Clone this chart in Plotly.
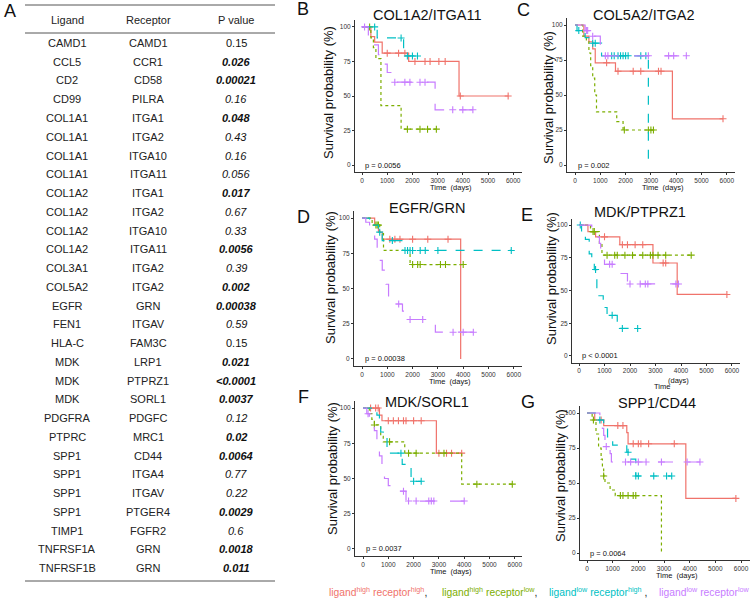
import plotly.graph_objects as go

W, H = 750, 598
FONT = "Liberation Sans, Arial, sans-serif"

# ---------------- table data ----------------
ligands = ["CAMD1", "CCL5", "CD2", "CD99", "COL1A1", "COL1A1", "COL1A1", "COL1A1",
           "COL1A2", "COL1A2", "COL1A2", "COL1A2", "COL3A1", "COL5A2", "EGFR", "FEN1",
           "HLA-C", "MDK", "MDK", "MDK", "PDGFRA", "PTPRC", "SPP1", "SPP1", "SPP1",
           "SPP1", "TIMP1", "TNFRSF1A", "TNFRSF1B"]
receptors = ["CAMD1", "CCR1", "CD58", "PILRA", "ITGA1", "ITGA2", "ITGA10", "ITGA11",
             "ITGA1", "ITGA2", "ITGA10", "ITGA11", "ITGA2", "ITGA2", "GRN", "ITGAV",
             "FAM3C", "LRP1", "PTPRZ1", "SORL1", "PDGFC", "MRC1", "CD44", "ITGA4",
             "ITGAV", "PTGER4", "FGFR2", "GRN", "GRN"]
p_values = ["0.15", "0.026", "0.00021", "0.16", "0.048", "0.43", "0.16", "0.056",
            "0.017", "0.67", "0.33", "0.0056", "0.39", "0.002", "0.00038", "0.59",
            "0.15", "0.021", "<0.0001", "0.0037", "0.12", "0.02", "0.0064", "0.77",
            "0.22", "0.0029", "0.6", "0.0018", "0.011"]
p_style = ["plain", "bold", "bold", "italic", "bold", "italic", "italic", "italic",
           "bold", "italic", "italic", "bold", "italic", "bold", "bold", "italic",
           "plain", "bold", "bold", "bold", "italic", "bold", "bold", "italic",
           "italic", "bold", "italic", "bold", "bold"]
table_header = ["Ligand", "Receptor", "P value"]

# ---------------- survival data (groups: hh, hl, lh, ll) ----------------
group_names = ["ligand high receptor high", "ligand high receptor low",
               "ligand low receptor high", "ligand low receptor low"]
panel_titles = ["COL1A2/ITGA11", "COL5A2/ITGA2", "EGFR/GRN", "MDK/PTPRZ1", "MDK/SORL1", "SPP1/CD44"]
panel_letters = ["B", "C", "D", "E", "F", "G"]
panel_pvals = ["p = 0.0056", "p = 0.002", "p = 0.00038", "p &lt; 0.0001", "p = 0.0037", "p = 0.0064"]

B_t = [[0, 350, 500, 800, 1850, 3850, 5800],
       [0, 350, 450, 550, 750, 1550, 2950],
       [0, 600, 1650, 2200],
       [0, 250, 450, 650, 850, 1000, 1200, 2900, 4400]]
B_s = [[100, 93, 89, 81, 75, 50, 50],
       [100, 92, 85, 77, 43, 26, 26],
       [100, 92, 79, 79],
       [100, 93, 87, 80, 73, 67, 60, 40, 40]]
B_c = [[1000, 1450, 1700, 2100, 2500, 2700, 3050, 3300, 3900, 5800],
       [300, 1800, 2300, 2600, 2950],
       [500, 1550, 1800, 2000, 2200],
       [100, 1300, 1700, 1900, 2300, 2500, 3600, 4000, 4400]]

C_t = [[0, 350, 550, 700, 800, 1600, 3850, 5850],
       [0, 300, 450, 550, 620, 700, 780, 850, 1650, 1900, 3100],
       [0, 80, 400, 600, 1050, 2900],
       [0, 400, 650, 1000, 1150, 4400]]
C_s = [[100, 92, 88, 83, 73, 67, 33, 33],
       [100, 92, 88, 80, 71, 62, 50, 38, 31, 25, 25],
       [100, 96, 91, 87, 78, 0],
       [100, 96, 92, 83, 78, 78]]
C_c = [[1250, 1700, 2300, 2600, 3300, 3400, 5850],
       [1950, 2900, 3000, 3100],
       [150, 700, 800, 1450, 1550, 1700, 1800, 1900, 2000, 2100, 2600, 2800],
       [450, 500, 700, 1200, 1300, 2900, 3700, 3900, 4400]]

D_t = [[0, 500, 650, 800, 3900],
       [0, 400, 700, 850, 1900, 4000],
       [0, 300, 650, 800, 1600, 5900],
       [0, 150, 300, 400, 500, 600, 700, 800, 950, 1050, 1600, 1750, 2900, 4400]]
D_s = [[100, 95, 90, 85, 0],
       [100, 95, 89, 77, 67, 67],
       [100, 95, 90, 84, 77, 77],
       [100, 97, 94, 90, 85, 78, 70, 63, 53, 39, 34, 28, 19, 19]]
D_c = [[1100, 1300, 1500, 2000, 2600, 3400],
       [550, 600, 650, 2000, 2200, 2300, 3100, 3300, 4000],
       [700, 1200, 1700, 1800, 1900, 2000, 2300, 2500, 3000, 5900],
       [1450, 1900, 2400, 3600, 4000, 4400]]

E_t = [[0, 350, 650, 1600, 2900, 3850, 5800],
       [0, 450, 800, 900, 4400],
       [0, 100, 250, 400, 500, 600, 700, 950, 1100, 1500, 2300],
       [0, 500, 650, 800, 850, 1000, 1650, 1900, 3900]]
E_s = [[100, 95, 91, 85, 71, 47, 47],
       [100, 95, 86, 77, 77],
       [100, 95, 89, 78, 72, 66, 46, 37, 31, 21, 21],
       [100, 95, 91, 86, 80, 70, 63, 55, 55]]
E_c = [[1000, 1700, 1900, 2200, 2500, 3300, 3400, 5800],
       [550, 600, 1100, 1400, 1500, 1800, 2100, 2500, 2800, 2900, 3100, 3400, 4400],
       [50, 650, 1300, 1700, 2300],
       [1200, 1300, 2000, 2400, 2600, 2700, 3800, 3900]]

F_t = [[0, 650, 750, 2900, 3900],
       [0, 250, 350, 450, 700, 800, 1650, 3900, 5900],
       [0, 550, 650, 700, 800, 950, 1550, 1900, 2300],
       [0, 150, 250, 350, 450, 550, 650, 750, 850, 1000, 1200, 1700, 4000]]
F_s = [[100, 95, 91, 68, 68],
       [100, 96, 92, 88, 80, 76, 68, 46, 46],
       [100, 95, 88, 83, 79, 68, 60, 48, 48],
       [100, 96, 92, 88, 84, 75, 66, 58, 50, 45, 41, 34, 34]]
F_c = [[300, 500, 600, 1000, 1200, 1400, 1600, 1700, 2000, 2300, 3000, 3300, 3500, 3900],
       [450, 1050, 1800, 2100, 3200, 4500, 5900],
       [1500, 2000, 2300],
       [200, 1600, 1800, 2100, 2600, 2700, 2800, 4000]]

G_t = [[0, 300, 650, 1550, 1600, 3850, 5800],
       [0, 200, 350, 450, 550, 600, 650, 700, 900, 1100, 2900],
       [0, 400, 650, 800, 1000, 1550, 1650, 1900, 3300],
       [0, 500, 600, 650, 700, 900, 950, 4400]]
G_s = [[100, 95, 91, 86, 78, 39, 39],
       [100, 95, 85, 75, 67, 60, 55, 50, 45, 41, 0],
       [100, 95, 89, 83, 77, 72, 67, 55, 55],
       [100, 96, 89, 84, 76, 71, 65, 65]]
G_c = [[550, 1200, 1400, 1800, 2000, 2100, 2400, 3400, 5800],
       [250, 650, 1300, 1400, 1600, 1800, 1900],
       [500, 1600, 1900, 2000, 2600, 3100, 3300],
       [750, 1500, 1700, 2000, 2300, 2900, 3900, 4400]]

x_ticks = [0, 1000, 2000, 3000, 4000, 5000, 6000]
y_ticks = [0, 25, 50, 75, 100]

# ---------------- styling / layout geometry (pixels) ----------------
colors = ["#F0736B", "#7CAE00", "#00BFC4", "#C77CFF"]
dashes = ["solid", "dot", "dash", "longdash"]

# left, right, top, bottom (px), x-range
geo = [
    (355, 522, 20, 172, [-280, 6350]),
    (567, 735, 18, 172, [-316, 6324]),
    (354, 522, 211, 366, [-316, 6324]),
    (572, 740, 218.5, 362.5, [-275, 6314]),
    (355, 522, 401, 556, [-316, 6284]),
    (580, 750, 406, 560, [-273, 6350]),
]
title_pos = [(427, 15), (644, 15), (427, 208), (640, 212), (427, 402), (657, 403)]
letter_pos = [(303, 9), (523, 10), (303, 217), (527, 215), (303, 397), (528, 402)]
ylab_pos = [(328, 93), (548, 98), (330, 278), (551, 279), (332, 469), (560, 476)]
all_t = [B_t, C_t, D_t, E_t, F_t, G_t]
all_s = [B_s, C_s, D_s, E_s, F_s, G_s]
all_c = [B_c, C_c, D_c, E_c, F_c, G_c]


def fx(x):
    return x / W


def fy(y):
    return 1 - y / H


def surv_at(ts, ss, c):
    v = ss[0]
    for t, s in zip(ts, ss):
        if t <= c:
            v = s
    return v


def note(x, y, text, size, color="#111", xanchor="center", **kw):
    d = dict(x=fx(x), y=fy(y), xref="paper", yref="paper", text=text, showarrow=False,
             xanchor=xanchor, yanchor="middle", font=dict(size=size, color=color, family=FONT))
    d.update(kw)
    return d


fig = go.Figure()
annotations = []
shapes = []

for i in range(6):
    xa = "x" if i == 0 else f"x{i+1}"
    ya = "y" if i == 0 else f"y{i+1}"
    for g in range(4):
        ts, ss, cs = all_t[i][g], all_s[i][g], all_c[i][g]
        fig.add_trace(go.Scatter(
            x=ts, y=ss, mode="lines", line=dict(color=colors[g], width=1.2, dash=dashes[g], shape="hv"),
            xaxis=xa, yaxis=ya, showlegend=False, hoverinfo="skip", name=group_names[g]))
        fig.add_trace(go.Scatter(
            x=cs, y=[surv_at(ts, ss, c) for c in cs], mode="markers",
            marker=dict(symbol="cross-thin", size=5, line=dict(color=colors[g], width=1.1)),
            xaxis=xa, yaxis=ya, showlegend=False, hoverinfo="skip"))
    l, r, t, b, xr = geo[i]
    suffix = "" if i == 0 else str(i + 1)
    fig.layout["xaxis" + suffix] = dict(
        domain=[fx(l), fx(r)], range=xr, anchor=ya, showgrid=False, zeroline=False,
        showline=True, linecolor="#333", linewidth=1, ticks="outside", ticklen=2,
        tickcolor="#333", tickvals=x_ticks, tickfont=dict(size=6.5, color="#333", family=FONT))
    fig.layout["yaxis" + suffix] = dict(
        domain=[fy(b), fy(t)], range=[-5, 105], anchor=xa, showgrid=False, zeroline=False,
        showline=True, linecolor="#333", linewidth=1, ticks="outside", ticklen=2,
        tickcolor="#333", tickvals=y_ticks, tickfont=dict(size=6.5, color="#333", family=FONT))
    annotations.append(note(title_pos[i][0], title_pos[i][1], panel_titles[i], 14.5))
    annotations.append(note(letter_pos[i][0], letter_pos[i][1], panel_letters[i], 18))
    annotations.append(note(ylab_pos[i][0], ylab_pos[i][1], "Survival probability (%)", 13, textangle=-90))
    # p value text inside the panel, near the origin
    annotations.append(dict(x=0, y=0, xref=xa, yref=ya, text=panel_pvals[i], showarrow=False,
                            xanchor="left", yanchor="middle", xshift=1,
                            font=dict(size=7.5, color="#111", family=FONT)))
    cx = (l + r) / 2 + 12
    if i == 3:
        annotations.append(note(cx - 6, b + 24, "Time", 7.5))
        annotations.append(note(678, b + 18, "(days)", 7.5))
    else:
        annotations.append(note(cx, b + 15, "Time  (days)", 7.5))

# ---------------- table ----------------
annotations.append(note(10, 11, "A", 18))
col_x = [67, 148, 236]
for j, h in enumerate(table_header):
    annotations.append(note(col_x[j], 20, h, 11, "#222"))
row0, dy = 43, 18.75
for k in range(len(ligands)):
    yy = row0 + k * dy
    annotations.append(note(col_x[0], yy, ligands[k], 11, "#222"))
    annotations.append(note(col_x[1], yy, receptors[k], 11, "#222"))
    pv = p_values[k].replace("<", "&lt;")
    if p_style[k] == "bold":
        txt = "<b><i>" + pv + "</i></b>"
    elif p_style[k] == "italic":
        txt = "<i>" + pv + "</i>"
    else:
        txt = pv
    annotations.append(note(col_x[2], yy, txt, 11, "#111"))
for yline in [5, 33, 581]:
    shapes.append(dict(type="line", xref="paper", yref="paper", x0=fx(25), x1=fx(275),
                       y0=fy(yline), y1=fy(yline), line=dict(color="#555", width=1)))

# ---------------- bottom legend ----------------
leg_text = ["ligand<sup>high</sup> receptor<sup>high</sup>",
            "ligand<sup>high</sup> receptor<sup>low</sup>",
            "ligand<sup>low</sup> receptor<sup>high</sup> ",
            "ligand<sup>low</sup> receptor<sup>low</sup>"]
leg_x = [327, 440, 547, 657]
for g in range(4):
    txt = leg_text[g] + ('<span style="color:#222">,</span>' if g < 3 else "")
    annotations.append(note(leg_x[g], 591, txt, 10.3, colors[g], xanchor="left"))

fig.update_layout(width=W, height=H, margin=dict(l=0, r=0, t=0, b=0), paper_bgcolor="white",
                  plot_bgcolor="white", annotations=annotations, shapes=shapes, showlegend=False)
fig.write_html("out.html", config={"displayModeBar": False},
               post_script="document.body.style.margin='0';")
